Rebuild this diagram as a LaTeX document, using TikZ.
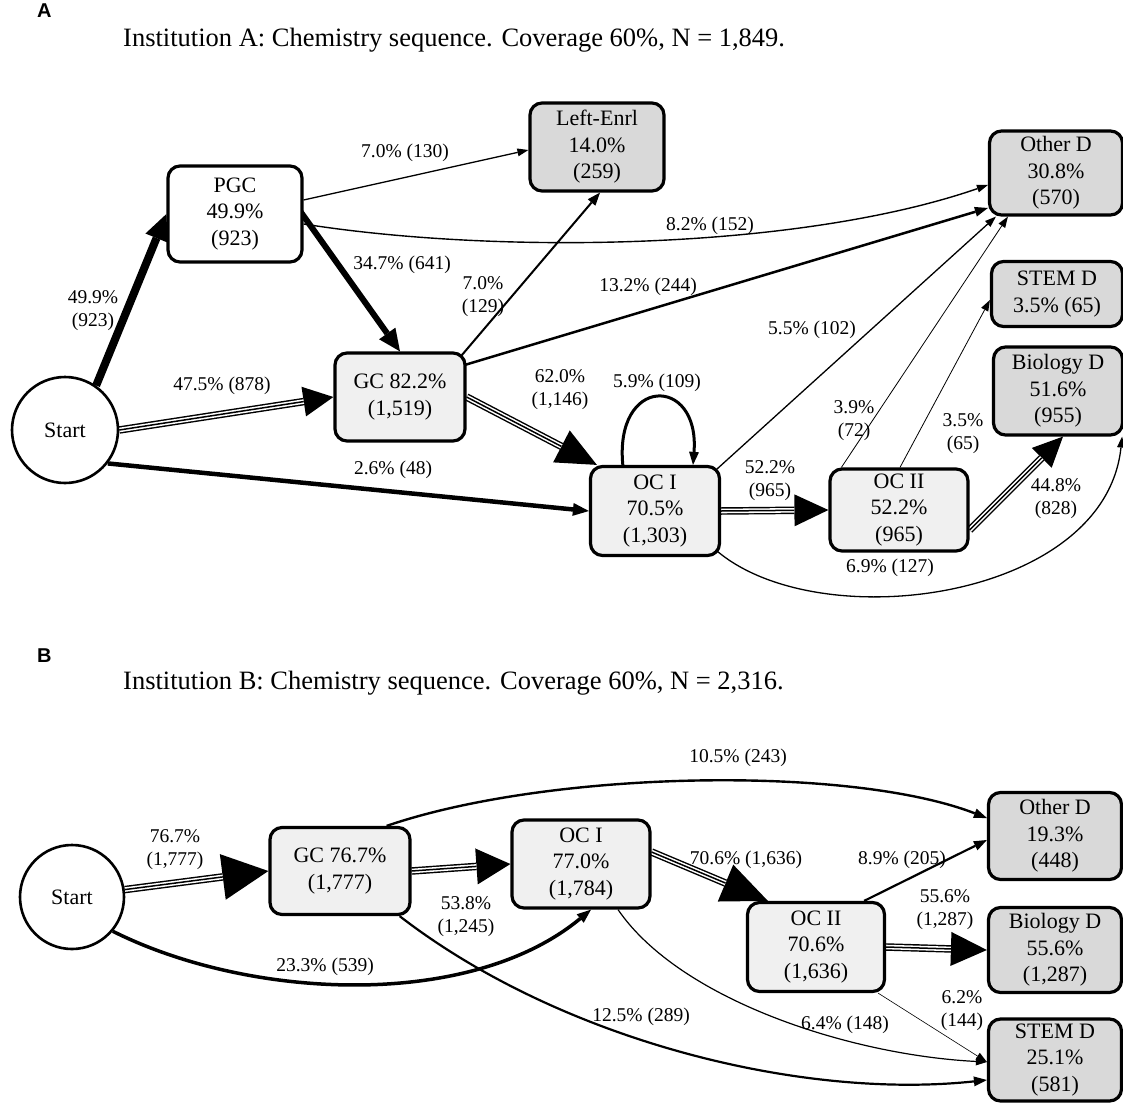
\documentclass[tikz,border=0pt]{standalone}
\usepackage{fontspec}
\setmainfont{Liberation Serif}
\newfontfamily\panelsans{Liberation Sans}
\usetikzlibrary{arrows.meta,calc,backgrounds}
\definecolor{lightfill}{HTML}{F0F0F0}
\definecolor{darkfill}{HTML}{D9D9D9}
\newcommand\nodefont{\fontsize{22}{26.5}\selectfont}
\newcommand\labfont{\fontsize{19.5}{23}\selectfont}
\newcommand\titlefont{\fontsize{26.5}{30}\selectfont}
\newcommand\tripedge[4]{%
  \draw[line width=7.5pt, -{Triangle[length=#1,width=#2,line width=0pt]}] (#3) -- (#4);
  \draw[white, line width=4.6pt, shorten >=#1] (#3) -- (#4);
  \draw[black, line width=1.5pt, shorten >=#1] (#3) -- (#4);
}
\tikzset{
  box/.style={draw, rectangle, rounded corners=12pt, line width=3.2pt, align=center, inner sep=0pt, font=\nodefont},
  whitebox/.style={box, fill=white},
  midbox/.style={box, fill=lightfill},
  endbox/.style={box, fill=darkfill},
  startnode/.style={draw, circle, line width=2.6pt, fill=white, inner sep=0pt, font=\nodefont},
  lab/.style={align=center, inner sep=0pt, font=\labfont},
  panel/.style={anchor=north west, inner sep=0pt, font=\panelsans\bfseries\fontsize{20}{22}\selectfont},
  tipS/.style={-{Triangle[length=11pt,width=8pt,line width=0pt]}},
  tipM/.style={-{Triangle[length=13pt,width=10pt,line width=0pt]}},
}
\begin{document}
\begin{tikzpicture}[x=1pt,y=-1pt]
\useasboundingbox (0,0) rectangle (1123,1102);
% ---------------- Panel A ----------------
\node[panel] (letA) at (37,4) {A};
\node[anchor=west, inner sep=0pt, font=\titlefont] (titleA) at (123,40) {Institution A: Chemistry sequence. Coverage 60\%, N = 1,849.};

\node[startnode, minimum size=106pt] (start) at (65,430) {Start};
\node[whitebox, minimum width=134pt, minimum height=96pt] (pgc) at (235,214) {PGC\\49.9\%\\(923)};
\node[endbox, minimum width=134pt, minimum height=88pt] (left) at (597,147) {Left-Enrl\\14.0\%\\(259)};
\node[endbox, minimum width=133pt, minimum height=84pt] (otherA) at (1056,173) {Other D\\30.8\%\\(570)};
\node[endbox, minimum width=131pt, minimum height=65pt] (stemA) at (1057,294) {STEM D\\3.5\% (65)};
\node[endbox, minimum width=129pt, minimum height=88pt] (bioA) at (1058,391) {Biology D\\51.6\%\\(955)};
\node[midbox, minimum width=130pt, minimum height=88pt] (gcA) at (400,397) {GC 82.2\%\\(1,519)};
\node[midbox, minimum width=129pt, minimum height=89pt] (oc1A) at (655,511) {OC I\\70.5\%\\(1,303)};
\node[midbox, minimum width=138pt, minimum height=82pt] (oc2A) at (899,510) {OC II\\52.2\%\\(965)};

\begin{pgfonlayer}{background}
\draw[line width=8pt, -{Triangle[length=26pt,width=24pt,line width=0pt]}] (start.55) -- (pgc.west);
\tripedge{30pt}{30pt}{start.east}{gcA.west}
\draw[line width=4.5pt, -{Triangle[length=16pt,width=13pt,line width=0pt]}] (start.-38) -- (oc1A.west);
\draw[line width=1.3pt, tipS] ($(pgc.east)+(0,-14)$) -- ($(left.west)+(0,3)$);
\draw[line width=1.4pt, tipS] ($(pgc.east)+(0,10)$) .. controls (500,255) and (800,250) .. ($(otherA.west)+(0,12)$);
\draw[line width=6pt, -{Triangle[length=22pt,width=20pt,line width=0pt]}] ($(pgc.east)+(-5,-5)$) -- (gcA.north);
\draw[line width=2pt, tipM] ($(gcA.north east)+(-5,4)$) -- ($(left.south)+(3,0)$);
\draw[line width=2.5pt, tipM] ($(gcA.east)+(-2,-32)$) -- ($(otherA.west)+(0,35)$);
\tripedge{40pt}{36pt}{gcA.east}{$(oc1A.north west)+(8,0)$}
\draw[line width=3pt, tipM] ($(oc1A.north)+(-32,2)$) .. controls ($(oc1A.north)+(-42,-90)$) and ($(oc1A.north)+(45,-90)$) .. ($(oc1A.north)+(38,0)$);
\draw[line width=1.3pt, tipS] ($(oc1A.north east)+(-4,4)$) -- ($(otherA.south west)+(8,0)$);
\tripedge{34pt}{32pt}{oc1A.east}{oc2A.west}
\draw[line width=1.3pt, tipS] ($(oc1A.south east)+(-4,-6)$) .. controls (820,638) and (1105,600) .. ($(bioA.south east)+(-2,0)$);
\draw[line width=0.8pt, tipS] ($(oc2A.north west)+(13,0)$) -- ($(otherA.south west)+(20,0)$);
\draw[line width=0.8pt, tipS] ($(oc2A.north)+(1,0)$) -- ($(stemA.west)+(0,6)$);
\tripedge{30pt}{28pt}{$(oc2A.east)+(0,20)$}{$(bioA.south)+(5,0)$}
\end{pgfonlayer}

\node[lab] (lA1) at (93,311) {49.9\%\\(923)};
\node[lab] (lA2) at (222,386) {47.5\% (878)};
\node[lab] (lA3) at (393,470) {2.6\% (48)};
\node[lab] (lA4) at (405,153) {7.0\% (130)};
\node[lab] (lA5) at (710,226) {8.2\% (152)};
\node[lab] (lA6) at (402,265) {34.7\% (641)};
\node[lab] (lA7) at (483,297) {7.0\%\\(129)};
\node[lab] (lA8) at (648,287) {13.2\% (244)};
\node[lab] (lA9) at (560,390) {62.0\%\\(1,146)};
\node[lab] (lA10) at (657,383) {5.9\% (109)};
\node[lab] (lA11) at (812,330) {5.5\% (102)};
\node[lab] (lA12) at (770,481) {52.2\%\\(965)};
\node[lab] (lA13) at (890,568) {6.9\% (127)};
\node[lab] (lA14) at (854,421) {3.9\%\\(72)};
\node[lab] (lA15) at (963,434) {3.5\%\\(65)};
\node[lab] (lA16) at (1056,499) {44.8\%\\(828)};

% ---------------- Panel B ----------------
\node[panel] (letB) at (37,649) {B};
\node[anchor=west, inner sep=0pt, font=\titlefont] (titleB) at (123,683) {Institution B: Chemistry sequence. Coverage 60\%, N = 2,316.};

\node[startnode, minimum size=104pt] (startB) at (72,897) {Start};
\node[midbox, minimum width=140pt, minimum height=87pt] (gcB) at (340,871) {GC 76.7\%\\(1,777)};
\node[midbox, minimum width=138pt, minimum height=88pt] (oc1B) at (581,864) {OC I\\77.0\%\\(1,784)};
\node[midbox, minimum width=137pt, minimum height=89pt] (oc2B) at (816,947) {OC II\\70.6\%\\(1,636)};
\node[endbox, minimum width=133pt, minimum height=87pt] (otherB) at (1055,836) {Other D\\19.3\%\\(448)};
\node[endbox, minimum width=133pt, minimum height=85pt] (bioB) at (1055,950) {Biology D\\55.6\%\\(1,287)};
\node[endbox, minimum width=133pt, minimum height=82pt] (stemB) at (1055,1060) {STEM D\\25.1\%\\(581)};

\begin{pgfonlayer}{background}
\tripedge{46pt}{46pt}{startB.8}{gcB.west}
\tripedge{34pt}{36pt}{gcB.east}{oc1B.west}
\draw[line width=2.4pt, tipM] ($(gcB.north east)+(-25,0)$) .. controls (550,770) and (850,765) .. ($(otherB.west)+(0,-18)$);
\draw[line width=2.2pt, tipM] ($(gcB.south east)+(-12,0)$) .. controls (560,1040) and (800,1100) .. ($(stemB.west)+(0,20)$);
\draw[line width=3.5pt, -{Triangle[length=14pt,width=11pt,line width=0pt]}] (startB.-40) .. controls (250,1000) and (470,1010) .. ($(oc1B.south)+(10,0)$);
\tripedge{46pt}{40pt}{$(oc1B.east)+(0,-12)$}{$(oc2B.north west)+(22,0)$}
\draw[line width=1.2pt, tipS] ($(oc1B.south)+(37,0)$) .. controls (680,1000) and (850,1055) .. ($(stemB.west)+(0,2)$);
\draw[line width=2.2pt, tipM] ($(oc2B.north east)+(-22,0)$) -- ($(otherB.west)+(0,4)$);
\tripedge{36pt}{34pt}{oc2B.east}{bioB.west}
\draw[line width=0.6pt, tipS] ($(oc2B.south east)+(-8,0)$) -- ($(stemB.west)+(0,2)$);
\end{pgfonlayer}

\node[lab] (lB1) at (175,850) {76.7\%\\(1,777)};
\node[lab] (lB2) at (466,917) {53.8\%\\(1,245)};
\node[lab] (lB3) at (738,758) {10.5\% (243)};
\node[lab] (lB4) at (641,1017) {12.5\% (289)};
\node[lab] (lB5) at (325,967) {23.3\% (539)};
\node[lab] (lB6) at (746,860) {70.6\% (1,636)};
\node[lab] (lB7) at (845,1025) {6.4\% (148)};
\node[lab] (lB8) at (902,860) {8.9\% (205)};
\node[lab] (lB9) at (945,910) {55.6\%\\(1,287)};
\node[lab] (lB10) at (962,1011) {6.2\%\\(144)};
\end{tikzpicture}
\end{document}
